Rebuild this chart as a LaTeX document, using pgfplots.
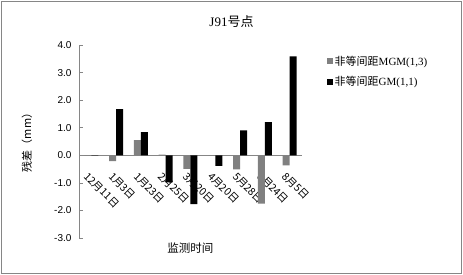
\documentclass[border=0pt]{standalone}
\usepackage{fontspec}
\setmainfont{Liberation Serif}
\newfontfamily\cjk{Noto Sans CJK SC}
\newfontfamily\arial{Liberation Sans}
\usepackage{pgfplots}
\pgfplotsset{compat=1.18}
\definecolor{mgm}{HTML}{808080}
\definecolor{axgray}{HTML}{868686}
\begin{document}
\begin{tikzpicture}[x=1pt,y=1pt]
\begin{axis}[
  at={(79pt,37pt)}, anchor=south west,
  width=223pt, height=193pt, scale only axis,
  xmin=-0.5, xmax=8.5, ymin=-3, ymax=4,
  axis y line*=left, axis x line*=middle,
  axis line style={axgray, line width=0.7pt},
  ybar=0pt, bar width=7pt,
  ytick={-3,-2,-1,0,1,2,3,4},
  yticklabels={-3.0,-2.0,-1.0,0.0,1.0,2.0,3.0,4.0},
  yticklabel style={font=\arial\fontsize{10}{12}\selectfont, xshift=-4pt},
  ytick style={axgray, line width=0.7pt},
  tick align=inside,
  major tick length=4pt,
  xtick={0,1,2,3,4,5,6,7,8},
  xticklabels={12月11日,1月3日,1月23日,2月25日,3月20日,4月20日,5月28日,6月24日,8月5日},
  xtick style={draw=none},
  xticklabel style={font=\cjk\fontsize{10.5}{12}\selectfont, xshift=-2pt, yshift=-15pt, rotate=-45, anchor=north west, inner sep=0.5pt},
  xlabel={\cjk 监测时间},
  xlabel style={at={(axis description cs:0.5,-0.052)}, anchor=center, font=\fontsize{11.5}{13}\selectfont},
  ylabel={\cjk 残差（mm）},
  ylabel style={at={(axis description cs:-0.233,0.508)}, anchor=center, font=\fontsize{11}{13}\selectfont},
  legend style={at={(1.11,0.955)}, anchor=north west, draw=none, fill=none,
    font=\fontsize{11}{13}\selectfont, row sep=6pt, inner sep=0pt,
    /tikz/every even column/.append style={column sep=2.5pt}},
  legend cell align=left,
  legend image code/.code={\fill[#1] (0pt,-3pt) rectangle (6pt,3pt);},
]
\addplot[fill=mgm, draw=none] coordinates {(0,0.01) (1,-0.21) (2,0.55) (3,0.02) (4,-0.49) (5,-0.01) (6,-0.51) (7,-1.75) (8,-0.37)};
\addlegendentry{{\cjk 非等间距}MGM(1,3)}
\addplot[fill=black, draw=none] coordinates {(0,-0.01) (1,1.67) (2,0.84) (3,-0.98) (4,-1.77) (5,-0.38) (6,0.90) (7,1.20) (8,3.59)};
\addlegendentry{{\cjk 非等间距}GM(1,1)}
\end{axis}
\node[font=\fontsize{13}{15}\selectfont] at (231.5,253) {J91{\cjk 号点}};
\draw[axgray, line width=0.8pt] (1.5,1.5) rectangle (461.5,273.5);
\path[use as bounding box] (0,0) rectangle (463,275);
\end{tikzpicture}
\end{document}
